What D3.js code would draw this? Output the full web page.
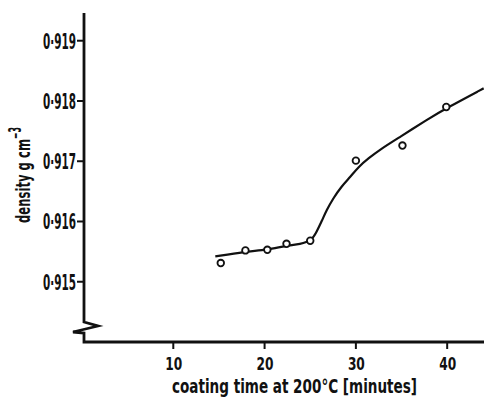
<!DOCTYPE html>
<html>
<head>
<meta charset="utf-8">
<script src="https://cdn.jsdelivr.net/npm/d3@7"></script>
<style>
  body { margin: 0; background: #fff; }
  text { font-family: "DejaVu Sans Condensed", "DejaVu Sans", sans-serif; font-stretch: condensed; font-weight: bold; fill: #111; }
</style>
</head>
<body>
<div id="chart"></div>
<script>
// measured points: coating time (min) vs density (g cm^-3)
const times = [15.2, 17.9, 20.3, 22.4, 25.0, 30.0, 35.1, 39.9];
const densities = [0.91531, 0.91552, 0.91553, 0.91563, 0.91568, 0.91701, 0.91726, 0.91790];

// hand-drawn fitted curve
const curveTimes = [14.6, 17.9, 20.3, 22.4, 23.9, 25.2, 25.7, 26.3, 26.8, 27.5, 28.4, 29.4, 30.3, 31.4, 32.6, 34.8, 37.8, 39.9, 44.0];
const curveDensities = [0.91542, 0.91550, 0.91553, 0.91560, 0.91562, 0.91569, 0.91583, 0.91602, 0.91619, 0.91638, 0.91658, 0.91674, 0.91691, 0.91705, 0.91719, 0.91740, 0.91769, 0.91788, 0.91821];

const xTicks = [10, 20, 30, 40];
const yTicks = [0.915, 0.916, 0.917, 0.918, 0.919];

const W = 484, H = 400;
const svg = d3.select("#chart").append("svg")
  .attr("width", W)
  .attr("height", H);

const x = d3.scaleLinear().domain([0, 44]).range([82, 483.7]);
const y = d3.scaleLinear().domain([0.914, 0.91946]).range([342, 13]);

const ink = "#111";

// axes, with a break in the y axis
const axisPath = [[84, 13], [84, 322], [98, 326], [73, 332], [84, 333], [84, 342], [W, 342]];
svg.append("path")
  .attr("d", d3.line()(axisPath))
  .attr("fill", "none")
  .attr("stroke", ink)
  .attr("stroke-width", 2.8)
  .attr("stroke-linejoin", "miter");

// y ticks
svg.selectAll(".ytick")
  .data(yTicks)
  .enter()
  .append("line")
  .attr("x1", 77)
  .attr("x2", 84)
  .attr("y1", d => y(d))
  .attr("y2", d => y(d))
  .attr("stroke", ink)
  .attr("stroke-width", 2);

svg.selectAll(".ylab")
  .data(yTicks)
  .enter()
  .append("text")
  .attr("x", 76)
  .attr("y", d => y(d) + 8)
  .attr("text-anchor", "end")
  .attr("font-size", 21)
  .attr("textLength", 33)
  .attr("lengthAdjust", "spacingAndGlyphs")
  .text(d => d.toFixed(3).replace(".", "·"));

// x ticks
svg.selectAll(".xtick")
  .data(xTicks)
  .enter()
  .append("line")
  .attr("x1", d => x(d))
  .attr("x2", d => x(d))
  .attr("y1", 342)
  .attr("y2", 349)
  .attr("stroke", ink)
  .attr("stroke-width", 2);

svg.selectAll(".xlab")
  .data(xTicks)
  .enter()
  .append("text")
  .attr("x", d => x(d) - 8)
  .attr("y", 370)
  .attr("font-size", 17)
  .attr("textLength", 17)
  .attr("lengthAdjust", "spacingAndGlyphs")
  .text(d => d);

// axis titles
svg.append("text")
  .attr("x", 172)
  .attr("y", 393)
  .attr("font-size", 19)
  .attr("textLength", 245)
  .attr("lengthAdjust", "spacingAndGlyphs")
  .text("coating time at 200°C  [minutes]");

svg.append("text")
  .attr("transform", "translate(30,223) rotate(-90)")
  .attr("font-size", 20)
  .attr("textLength", 84)
  .attr("lengthAdjust", "spacingAndGlyphs")
  .text("density  g cm");
svg.append("text")
  .attr("transform", "translate(21,139) rotate(-90)")
  .attr("font-size", 17)
  .attr("textLength", 12)
  .attr("lengthAdjust", "spacingAndGlyphs")
  .text("−3");

// fitted curve
const curvePts = curveTimes.map((t, i) => [x(t), y(curveDensities[i])]);
svg.append("path")
  .attr("d", d3.line().curve(d3.curveBasis)(curvePts))
  .attr("fill", "none")
  .attr("stroke", ink)
  .attr("stroke-width", 2.2);

// data points
svg.selectAll(".pt")
  .data(times)
  .enter()
  .append("circle")
  .attr("cx", d => x(d))
  .attr("cy", (d, i) => y(densities[i]))
  .attr("r", 3.3)
  .attr("fill", "#fff")
  .attr("stroke", ink)
  .attr("stroke-width", 1.8);
</script>
</body>
</html>
